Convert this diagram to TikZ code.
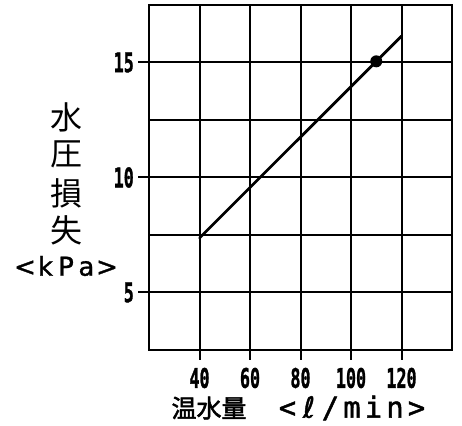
\documentclass[tikz,border=0pt]{standalone}
\usepackage{fontspec}
\setmainfont{Liberation Sans}
\newfontfamily\cjk{Noto Sans CJK JP}
\newfontfamily\cjkb{Noto Sans CJK JP}[FakeBold=2]
\newfontfamily\digitfont{DejaVu Sans Mono Bold}[FakeBold=1.5]
\newfontfamily\unitfont{DejaVu Sans}[FakeBold=1.2]
\newfontfamily\unitmono{DejaVu Sans Mono}[FakeBold=1.5]
\newfontfamily\litrefont{DejaVu Sans}[FakeBold=1.5]
\newcommand\cellbox[2]{\makebox[#1][c]{#2}}
\begin{document}
\begin{tikzpicture}[x=1pt,y=1pt,
  gridline/.style={line width=2pt,black},
  curveline/.style={line width=2.8pt,black},
  ticklab/.style={inner sep=0pt,font=\fontsize{27}{27}\selectfont\digitfont},
  ylab/.style={inner sep=0pt,font=\fontsize{32}{32}\selectfont\cjk},
  unitlab/.style={inner sep=0pt,font=\fontsize{26}{26}\selectfont\unitfont},
  xunitlab/.style={inner sep=0pt,font=\fontsize{29}{29}\selectfont\unitmono},
  xlab/.style={inner sep=0pt,font=\fontsize{25}{25}\selectfont\cjkb}]
\useasboundingbox (0,0) rectangle (462,425);
\begin{scope}[shift={(98.5,17.5)}, x=2.525pt, y=23pt]
  % grid
  \foreach \xv in {40,60,80,100,120} \draw[gridline] (\xv,2.5) -- (\xv,17.5);
  \foreach \yv in {5,7.5,10,12.5,15} \draw[gridline] (20,\yv) -- (140,\yv);
  \draw[gridline] (20,2.5) rectangle (140,17.5);
  % ticks and labels
  \foreach \xv in {40,60,80,100,120} {
    \draw[gridline] (\xv,2.5) -- ++(0,-10pt);
    \node[ticklab] (xl\xv) at ([yshift=-28pt]\xv,2.5) {\scalebox{0.62}[1]{\xv}};
  }
  \foreach \yv in {5,10,15} {
    \draw[gridline] (20,\yv) -- ++(-11pt,0);
    \node[ticklab,anchor=east] (yl\yv) at ([xshift=-15pt]20,\yv) {\scalebox{0.62}[1]{\yv}};
  }
  % curve
  \coordinate (c0) at (40,7.37);
  \coordinate (c1) at (120,16.15);
  \draw[curveline,line cap=round] (c0) -- (c1);
  \node[circle,fill=black,inner sep=0pt,minimum size=12pt] (pt) at (110,15.05) {};
\end{scope}
% axis labels
\node[ylab] (ya) at (66,308) {水};
\node[ylab] (yb) at (66,271) {圧};
\node[ylab] (yc) at (66,232) {損};
\node[ylab] (yd) at (66,195) {失};
\node[unitlab] (yu) at (66,159) {\cellbox{20.5pt}{<}\cellbox{20.5pt}{k}\cellbox{20.5pt}{P}\cellbox{20.5pt}{a}\cellbox{20.5pt}{>}};
\node[xlab] (xa) at (209,17) {温水量};
\node[xunitlab] (xu) at (352,17) {\cellbox{21.5pt}{<}\cellbox{21.5pt}{\litrefont ℓ}\cellbox{21.5pt}{/}\cellbox{21.5pt}{m}\cellbox{21.5pt}{i}\cellbox{21.5pt}{n}\cellbox{21.5pt}{>}};
\end{tikzpicture}
\end{document}
